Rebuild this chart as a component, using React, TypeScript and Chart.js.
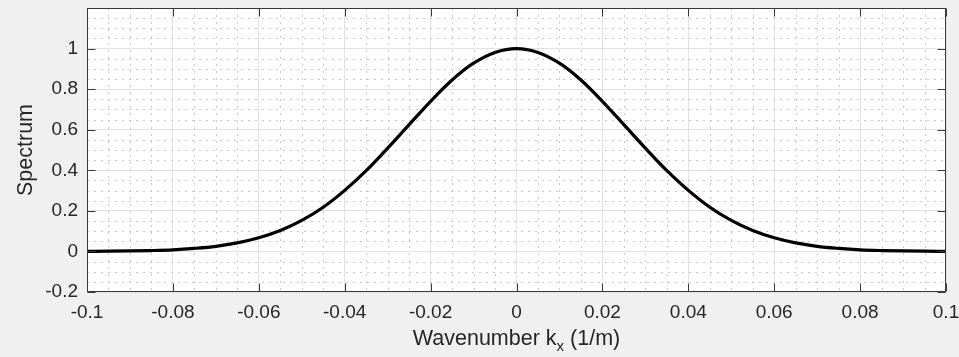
import React, { useEffect, useRef } from "react";
import { Chart, registerables } from "chart.js";

Chart.register(...registerables);

// Wavenumber samples (1/m)
const kx = [
  -0.1, -0.095, -0.09, -0.085, -0.08, -0.075, -0.07, -0.065, -0.06, -0.055,
  -0.05, -0.045, -0.04, -0.035, -0.03, -0.025, -0.02, -0.015, -0.01, -0.005,
  0, 0.005, 0.01, 0.015, 0.02, 0.025, 0.03, 0.035, 0.04, 0.045,
  0.05, 0.055, 0.06, 0.065, 0.07, 0.075, 0.08, 0.085, 0.09, 0.095, 0.1,
];

// Fitted spectrum (black, thick)
const spectrumFit = [
  0.0005, 0.0011, 0.0023, 0.0044, 0.008, 0.015, 0.025, 0.042, 0.067, 0.103,
  0.153, 0.218, 0.301, 0.398, 0.509, 0.625, 0.74, 0.845, 0.928, 0.981,
  1.0, 0.981, 0.928, 0.845, 0.74, 0.625, 0.509, 0.398, 0.301, 0.218,
  0.153, 0.103, 0.067, 0.042, 0.025, 0.015, 0.008, 0.0044, 0.0023, 0.0011, 0.0005,
];

// Measured spectrum (red, thin, almost hidden under the fit)
const spectrumData = [
  0.0005, 0.0011, 0.0023, 0.0044, 0.008, 0.015, 0.025, 0.041, 0.066, 0.102,
  0.152, 0.217, 0.3, 0.397, 0.508, 0.625, 0.74, 0.845, 0.928, 0.981,
  1.0, 0.981, 0.929, 0.847, 0.743, 0.628, 0.513, 0.402, 0.305, 0.222,
  0.156, 0.105, 0.068, 0.043, 0.025, 0.015, 0.008, 0.0044, 0.0023, 0.0011, 0.0005,
];

const xTicks = [-0.1, -0.08, -0.06, -0.04, -0.02, 0, 0.02, 0.04, 0.06, 0.08, 0.1];
const xTickLabels = ["-0.1", "-0.08", "-0.06", "-0.04", "-0.02", "0", "0.02", "0.04", "0.06", "0.08", "0.1"];
const yTicks = [-0.2, 0, 0.2, 0.4, 0.6, 0.8, 1];
const yTickLabels = ["-0.2", "0", "0.2", "0.4", "0.6", "0.8", "1"];

const X_MIN = -0.1;
const X_MAX = 0.1;
const Y_MIN = -0.2;
const Y_MAX = 1.2;
const X_MINOR_STEP = 0.005;
const Y_MINOR_STEP = 0.05;

const xTitleMain = "Wavenumber k";
const xTitleSub = "x";
const xTitleTail = " (1/m)";
const yTitle = "Spectrum";

const FONT = "'Liberation Sans', Arial, Helvetica, sans-serif";
const TEXT = "#262626";

const framePlugin = {
  id: "matlabFrame",
  beforeDraw(chart: any) {
    const { ctx, chartArea: a } = chart;
    ctx.save();
    ctx.fillStyle = "#f0f0f0";
    ctx.fillRect(0, 0, chart.width, chart.height);
    ctx.fillStyle = "#ffffff";
    ctx.fillRect(a.left, a.top, a.right - a.left, a.bottom - a.top);
    ctx.restore();
  },
  beforeDatasetsDraw(chart: any) {
    const { ctx, chartArea: a, scales } = chart;
    const xs = scales.x;
    const ys = scales.y;
    ctx.save();
    ctx.strokeStyle = "#c8c8c8";
    ctx.lineWidth = 1;
    ctx.setLineDash([2, 5]);
    const nx = Math.round((X_MAX - X_MIN) / X_MINOR_STEP);
    for (let i = 1; i < nx; i++) {
      if (i % 4 === 0) continue;
      const px = Math.round(xs.getPixelForValue(X_MIN + i * X_MINOR_STEP)) + 0.5;
      ctx.beginPath();
      ctx.moveTo(px, a.top);
      ctx.lineTo(px, a.bottom);
      ctx.stroke();
    }
    const ny = Math.round((Y_MAX - Y_MIN) / Y_MINOR_STEP);
    for (let j = 1; j < ny; j++) {
      if (j % 4 === 0) continue;
      const py = Math.round(ys.getPixelForValue(Y_MIN + j * Y_MINOR_STEP)) + 0.5;
      ctx.beginPath();
      ctx.moveTo(a.left, py);
      ctx.lineTo(a.right, py);
      ctx.stroke();
    }
    ctx.restore();
  },
  afterDatasetsDraw(chart: any) {
    const { ctx, chartArea: a, scales } = chart;
    const xs = scales.x;
    const ys = scales.y;
    const L = Math.round(a.left) + 0.5;
    const R = Math.round(a.right) - 0.5;
    const T = Math.round(a.top) + 0.5;
    const B = Math.round(a.bottom) - 0.5;
    const tick = 8;
    ctx.save();
    ctx.strokeStyle = "#3a3a3a";
    ctx.lineWidth = 1;
    ctx.setLineDash([]);
    ctx.strokeRect(L, T, R - L, B - T);
    ctx.beginPath();
    xTicks.forEach((v) => {
      const px = Math.round(xs.getPixelForValue(v)) + 0.5;
      ctx.moveTo(px, B);
      ctx.lineTo(px, B - tick);
      ctx.moveTo(px, T);
      ctx.lineTo(px, T + tick);
    });
    yTicks.forEach((v) => {
      const py = Math.round(ys.getPixelForValue(v)) + 0.5;
      ctx.moveTo(L, py);
      ctx.lineTo(L + tick, py);
      ctx.moveTo(R, py);
      ctx.lineTo(R - tick, py);
    });
    ctx.stroke();

    // x-axis title with subscript
    const mainFont = `21.5px ${FONT}`;
    const subFont = `15px ${FONT}`;
    ctx.font = mainFont;
    const w1 = ctx.measureText(xTitleMain).width;
    const w3 = ctx.measureText(xTitleTail).width;
    ctx.font = subFont;
    const w2 = ctx.measureText(xTitleSub).width;
    const total = w1 + w2 + w3;
    const cx = (a.left + a.right) / 2;
    let x0 = cx - total / 2;
    const baseY = 345;
    ctx.fillStyle = TEXT;
    ctx.textBaseline = "alphabetic";
    ctx.textAlign = "left";
    ctx.font = mainFont;
    ctx.fillText(xTitleMain, x0, baseY);
    x0 += w1;
    ctx.font = subFont;
    ctx.fillText(xTitleSub, x0, baseY + 6);
    x0 += w2;
    ctx.font = mainFont;
    ctx.fillText(xTitleTail, x0, baseY);
    ctx.restore();
  },
};

export default function App() {
  const ref = useRef<HTMLCanvasElement | null>(null);

  useEffect(() => {
    document.body.style.margin = "0";
    const canvas = ref.current;
    if (!canvas) return;
    const chart = new Chart(canvas, {
      type: "line",
      data: {
        datasets: [
          {
            label: "Fit",
            data: kx.map((x, i) => ({ x, y: spectrumFit[i] })),
            borderColor: "#000000",
            borderWidth: 3.2,
            pointRadius: 0,
            cubicInterpolationMode: "monotone",
            fill: false,
          },
          {
            label: "Data",
            data: kx.map((x, i) => ({ x, y: spectrumData[i] })),
            borderColor: "#e00000",
            borderWidth: 1.5,
            pointRadius: 0,
            cubicInterpolationMode: "monotone",
            fill: false,
          },
        ],
      },
      options: {
        responsive: false,
        animation: false,
        devicePixelRatio: 1,
        layout: { padding: { top: 8, right: 13, left: 0, bottom: 0 } },
        plugins: {
          legend: { display: false },
          tooltip: { enabled: false },
        },
        scales: {
          x: {
            type: "linear",
            min: X_MIN,
            max: X_MAX,
            afterBuildTicks: (scale: any) => {
              scale.ticks = xTicks.map((v) => ({ value: v }));
            },
            afterFit: (scale: any) => {
              scale.height = 65;
              scale.paddingLeft = 0;
              scale.paddingRight = 0;
            },
            ticks: {
              autoSkip: false,
              maxRotation: 0,
              padding: 9,
              color: TEXT,
              font: { family: FONT, size: 19 },
              callback: (value: any) => {
                const idx = xTicks.findIndex((t) => Math.abs(t - Number(value)) < 1e-9);
                return idx >= 0 ? xTickLabels[idx] : "";
              },
            },
            grid: { color: "#e2e2e2", lineWidth: 1, drawTicks: false },
            border: { display: false },
          },
          y: {
            type: "linear",
            min: Y_MIN,
            max: Y_MAX,
            afterBuildTicks: (scale: any) => {
              scale.ticks = yTicks.map((v) => ({ value: v }));
            },
            afterFit: (scale: any) => {
              scale.width = 87;
              scale.paddingTop = 0;
              scale.paddingBottom = 0;
            },
            ticks: {
              autoSkip: false,
              padding: 9,
              color: TEXT,
              font: { family: FONT, size: 19 },
              callback: (value: any) => {
                const idx = yTicks.findIndex((t) => Math.abs(t - Number(value)) < 1e-9);
                return idx >= 0 ? yTickLabels[idx] : "";
              },
            },
            title: {
              display: true,
              text: yTitle,
              color: TEXT,
              font: { family: FONT, size: 21.5 },
              padding: { top: 13, bottom: 0 },
            },
            grid: { color: "#e2e2e2", lineWidth: 1, drawTicks: false },
            border: { display: false },
          },
        },
      },
      plugins: [framePlugin],
    } as any);
    return () => chart.destroy();
  }, []);

  return (
    <div style={{ position: "absolute", left: 0, top: 0, width: 959, height: 357 }}>
      <canvas ref={ref} width={959} height={357} style={{ display: "block" }} />
    </div>
  );
}
